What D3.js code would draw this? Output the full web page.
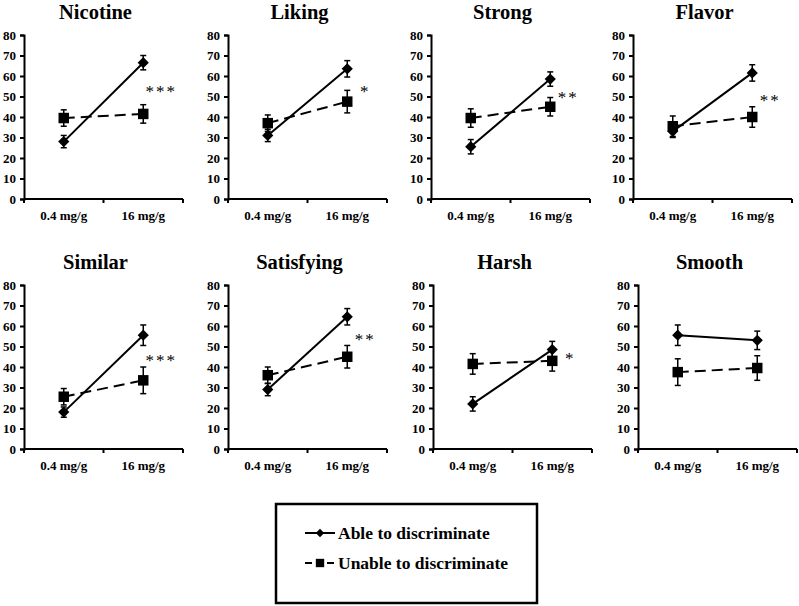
<!DOCTYPE html>
<html><head><meta charset="utf-8">
<script src="https://cdn.jsdelivr.net/npm/d3@7"></script>
</head><body><svg id="c" width="799" height="606"></svg>
<script>
const categories = ["0.4 mg/g", "16 mg/g"];
const panels = ["Nicotine","Liking","Strong","Flavor","Similar","Satisfying","Harsh","Smooth"];
const ableMean = [[28,66.5],[31,63.5],[25.5,58.5],[33,61.5],[18,55.5],[29,64.5],[22,48.5],[55.5,53]];
const ableErr  = [[3,3.5],[3,4],[3.5,3.5],[3,4],[2.5,5],[3,4],[3.5,4],[5,4.5]];
const unableMean = [[39.5,41.5],[37,47.5],[39.5,45],[35.5,40],[25.5,33.5],[36,45],[41.5,43],[37.5,39.5]];
const unableErr  = [[4,4.5],[4,5.5],[4.5,4.5],[5,5],[4,6.5],[4,5.5],[5,5],[6.5,6]];
const stars = ["***","*","**","**","***","**","*",""];
const starY = [54,54,51,50,45,55,46,0];
const yTicks = [0,10,20,30,40,50,60,70,80];
const seriesNames = ["Able to discriminate","Unable to discriminate"];

const FONT = "Times New Roman";
const svg = d3.select("#c");
document.body.style.margin = "0";
const lefts = [24,228,431,633,24,228,433,638];
const tops = [35,35,35,35,285,285,285,285];
const W = 159, H = 164;

const diamond = d3.symbol().type(d3.symbolDiamond2 || d3.symbolDiamond).size(80);
const square = d3.symbol().type(d3.symbolSquare).size(110);

function txt(sel, size, weight){
  return sel.attr("font-family",FONT).attr("font-weight",weight||"bold").attr("font-size",size).attr("fill","#000");
}

panels.forEach((name,i)=>{
  const g = svg.append("g").attr("transform",`translate(${lefts[i]},${tops[i]})`);
  const x = d3.scaleBand().domain(categories).range([0,W]);
  const y = d3.scaleLinear().domain([0,80]).range([H,0]);
  const cx = c => x(c)+x.bandwidth()/2;
  txt(g.append("text").attr("x",W/2-8).attr("y",-16).attr("text-anchor","middle"),20.5).text(name);
  const ya = g.append("g").call(d3.axisLeft(y).tickValues(yTicks).tickSize(4).tickPadding(4));
  ya.attr("font-family",null).attr("font-size",null);
  txt(ya.selectAll("text"),13);
  ya.select(".domain").attr("stroke-width",2);
  ya.selectAll(".tick line").attr("stroke-width",2);
  const xa = g.append("g").attr("transform",`translate(0,${H})`);
  xa.append("line").attr("x1",0).attr("x2",W).attr("stroke","#000").attr("stroke-width",2);
  const bounds = [0, x(categories[1]), W];
  xa.selectAll("line.t").data(bounds).enter().append("line").attr("class","t")
    .attr("x1",d=>d).attr("x2",d=>d).attr("y1",0).attr("y2",4).attr("stroke","#000").attr("stroke-width",2);
  txt(xa.selectAll("text").data(categories).enter().append("text")
    .attr("x",d=>cx(d)).attr("y",21).attr("text-anchor","middle"),13).text(d=>d);

  const series = [
    {m:unableMean[i], e:unableErr[i], dash:"11,6", sym:square},
    {m:ableMean[i], e:ableErr[i], dash:null, sym:diamond}
  ];
  series.forEach(s=>{
    const pts = categories.map((c,k)=>({c, v:s.m[k], e:s.e[k]}));
    const line = g.append("path").datum(pts)
      .attr("d", d3.line().x(d=>cx(d.c)).y(d=>y(d.v)))
      .attr("fill","none").attr("stroke","#000").attr("stroke-width",2);
    if(s.dash) line.attr("stroke-dasharray",s.dash);
    const eb = g.selectAll(null).data(pts).enter().append("g");
    eb.append("line").attr("x1",d=>cx(d.c)).attr("x2",d=>cx(d.c))
      .attr("y1",d=>y(d.v-d.e)).attr("y2",d=>y(d.v+d.e)).attr("stroke","#000").attr("stroke-width",1.5);
    [-1,1].forEach(sg=>{
      eb.append("line").attr("x1",d=>cx(d.c)-3).attr("x2",d=>cx(d.c)+3)
        .attr("y1",d=>y(d.v+sg*d.e)).attr("y2",d=>y(d.v+sg*d.e)).attr("stroke","#000").attr("stroke-width",1.5);
    });
    g.selectAll(null).data(pts).enter().append("path")
      .attr("d", s.sym).attr("transform",d=>`translate(${cx(d.c)},${y(d.v)})`).attr("fill","#000");
  });
  if(stars[i]){
    txt(g.append("text").attr("x",cx(categories[1])+18).attr("y",y(starY[i])+9)
      .attr("text-anchor","middle").attr("letter-spacing","2"),17,"normal").text(stars[i]);
  }
});

const lg = svg.append("g");
lg.append("rect").attr("x",276).attr("y",504).attr("width",261).attr("height",99)
  .attr("fill","none").attr("stroke","#000").attr("stroke-width",2.5);
const legY = [533,563];
const legDiamond = d3.symbol().type(d3.symbolDiamond2 || d3.symbolDiamond).size(45);
const legSquare = d3.symbol().type(d3.symbolSquare).size(70);
seriesNames.forEach((n,k)=>{
  const row = lg.append("g").attr("transform",`translate(305,${legY[k]})`);
  const l = row.append("line").attr("x1",0).attr("x2",30).attr("stroke","#000").attr("stroke-width",2);
  if(k===1) l.attr("stroke-dasharray","7,4");
  row.append("path").attr("d",(k===0?legDiamond:legSquare)()).attr("transform","translate(15,0)").attr("fill","#000");
  txt(row.append("text").attr("x",33).attr("y",6),17.5).text(n);
});
</script></body></html>
